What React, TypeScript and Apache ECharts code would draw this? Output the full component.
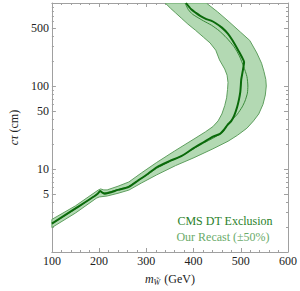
import React, { useEffect, useRef } from "react";
import * as echarts from "echarts";

// ---- data (m_W in GeV, c tau in cm) ----
const yLabelValues = [5, 10, 50, 100, 500];
const yMajorTicks = [1, 5, 10, 50, 100, 500, 1000];
const yMinorTicks = [2, 3, 4, 6, 7, 8, 9, 20, 30, 40, 60, 70, 80, 90, 200, 300, 400, 600, 700, 800, 900];

// CMS DT exclusion contour (thick line)
const cmsMass = [100, 150, 190, 198, 202, 207, 212, 240, 263, 283, 303, 322, 350, 375, 401, 421, 441, 456, 464, 472, 480, 486, 492, 496, 499, 500, 501, 504, 507, 502, 496, 483, 473, 460, 447, 437, 427, 414, 405, 395, 384];
const cmsCtau = [2.2, 3.35, 4.7, 5.1, 5.45, 5.2, 5.05, 5.6, 6.1, 7.3, 8.7, 10.5, 12.5, 14.4, 18, 21, 24.5, 26.5, 29.5, 34, 38, 44, 55, 68, 85, 100, 120, 150, 195, 225, 260, 350, 425, 505, 570, 612, 640, 700, 760, 840, 1000];

// Our recast, central contour (thin line)
const recastMass = [100, 150, 190, 198, 202, 210, 240, 263, 283, 303, 322, 350, 375, 401, 421, 441, 462, 473, 485, 493, 503, 509, 514, 515, 513, 506, 497, 486, 470, 454, 438, 421, 398, 389, 382];
const recastCtau = [2.2, 3.3, 4.75, 5.1, 5.35, 5.15, 5.65, 6.2, 7.3, 8.6, 10.2, 12.4, 14.4, 17.7, 20.5, 23.5, 28, 35, 41, 46, 56, 66, 82, 100, 130, 172, 230, 296, 380, 464, 540, 609, 731, 830, 1000];

// Recast band (+/-50%): outer (right/lower) edge, bottom to top
const outerMass = [100, 150, 194, 200, 217, 240, 263, 290, 322, 362, 401, 441, 473, 493, 513, 527, 538, 547, 552, 554, 553, 549, 544, 534, 519, 499, 473, 451, 427];
const outerCtau = [1.97, 2.95, 4.44, 4.6, 4.73, 5.1, 5.57, 6.8, 8.5, 11, 13.7, 17.5, 21.6, 25.5, 31, 38, 46, 60, 78, 100, 120, 150, 188, 250, 354, 448, 609, 781, 1000];
// inner (left/upper) edge, bottom to top
const innerMass = [100, 150, 198, 203, 210, 217, 240, 263, 290, 322, 360, 401, 425, 441, 452, 460, 466, 470, 472, 473, 471, 466, 455, 447, 435, 421, 404, 388, 375, 362, 351, 340];
const innerCtau = [2.47, 3.6, 5.57, 5.75, 5.6, 5.6, 6.2, 6.98, 9.0, 12, 16.5, 23, 28, 32.4, 38, 46, 58, 72, 91, 110, 135, 160, 206, 270, 330, 387, 470, 557, 650, 760, 866, 1000];

const FONT = "Liberation Serif";
const FRAME = "#a0a0a0";

function pairs(xs: number[], ys: number[]) {
  return xs.map((x, i) => [x, ys[i]]);
}

export default function App() {
  const ref = useRef<HTMLDivElement>(null);

  useEffect(() => {
    document.body.style.margin = "0";
    if (!ref.current) return;
    const chart = echarts.init(ref.current, null, { renderer: "svg" });

    const outer = pairs(outerMass, outerCtau);
    const inner = pairs(innerMass, innerCtau);
    const bandPoly = outer.concat(inner.slice().reverse());

    const xCommon = {
      type: "value",
      min: 100,
      max: 600,
      interval: 100,
      splitLine: { show: false },
      axisLine: { show: true, onZero: false, lineStyle: { color: FRAME, width: 1 } },
      axisTick: { show: true, inside: true, length: 4, lineStyle: { color: FRAME } },
      minorTick: { show: true, splitNumber: 5, length: 2, lineStyle: { color: FRAME } },
    };
    const yCommon = {
      type: "log",
      logBase: 10,
      min: 1,
      max: 1000,
      splitLine: { show: false },
      minorTick: { show: false },
    };

    chart.setOption({
      animation: false,
      textStyle: { fontFamily: FONT },
      grid: { left: 37, right: 9, top: 3, bottom: 34, containLabel: false },
      xAxis: [
        {
          ...xCommon,
          position: "bottom",
          axisLabel: { margin: 3, fontFamily: FONT, fontSize: 12, color: "#222" },
          name: "{i|m}{s|W̃} (GeV)",
          nameLocation: "middle",
          nameGap: 19,
          nameTextStyle: {
            fontFamily: FONT,
            fontSize: 12,
            color: "#222",
            rich: {
              i: { fontFamily: FONT, fontSize: 12, fontStyle: "italic", color: "#222" },
              s: { fontFamily: FONT, fontSize: 8, fontStyle: "italic", color: "#222", padding: [7, 1, 0, 0] },
            },
          },
        },
        { ...xCommon, position: "top", axisLabel: { show: false } },
      ],
      yAxis: [
        {
          ...yCommon,
          position: "left",
          axisLine: { show: true, lineStyle: { color: FRAME, width: 1 } },
          axisTick: { show: true, inside: true, length: 4, customValues: yMajorTicks, lineStyle: { color: FRAME } },
          axisLabel: { customValues: yLabelValues, margin: 3, fontFamily: FONT, fontSize: 12, color: "#222" },
          name: "{i|cτ} (cm)",
          nameLocation: "middle",
          nameGap: 23,
          nameTextStyle: {
            fontFamily: FONT,
            fontSize: 12,
            color: "#222",
            rich: { i: { fontFamily: FONT, fontSize: 12, fontStyle: "italic", color: "#222" } },
          },
        },
        {
          ...yCommon,
          position: "left",
          axisLine: { show: false },
          axisTick: { show: true, inside: true, length: 2, customValues: yMinorTicks, lineStyle: { color: FRAME } },
          axisLabel: { show: false },
        },
        {
          ...yCommon,
          position: "right",
          axisLine: { show: true, lineStyle: { color: FRAME, width: 1 } },
          axisTick: { show: true, inside: true, length: 4, customValues: yMajorTicks, lineStyle: { color: FRAME } },
          axisLabel: { show: false },
        },
        {
          ...yCommon,
          position: "right",
          axisLine: { show: false },
          axisTick: { show: true, inside: true, length: 2, customValues: yMinorTicks, lineStyle: { color: FRAME } },
          axisLabel: { show: false },
        },
      ],
      graphic: [
        {
          type: "text",
          x: 225,
          y: 221,
          style: {
            text: "CMS DT Exclusion",
            fill: "#2a7f2a",
            fontFamily: FONT,
            fontSize: 12,
            textAlign: "center",
            textVerticalAlign: "middle",
          },
        },
        {
          type: "text",
          x: 223,
          y: 237,
          style: {
            text: "Our Recast (±50%)",
            fill: "#6aab6a",
            fontFamily: FONT,
            fontSize: 12,
            textAlign: "center",
            textVerticalAlign: "middle",
          },
        },
      ],
      series: [
        {
          type: "custom",
          name: "band",
          xAxisIndex: 0,
          yAxisIndex: 0,
          clip: true,
          silent: true,
          data: [[300, 10]],
          renderItem: (_params: any, api: any) => {
            const pts = bandPoly.map((p) => api.coord(p));
            return {
              type: "polygon",
              shape: { points: pts },
              style: { fill: "#b3d9b3", stroke: "#5f9f5f", lineWidth: 1 },
            };
          },
        },
        {
          type: "line",
          name: "Our Recast",
          xAxisIndex: 0,
          yAxisIndex: 0,
          data: pairs(recastMass, recastCtau),
          showSymbol: false,
          smooth: 0.2,
          lineStyle: { color: "#3a8a3a", width: 1 },
          silent: true,
        },
        {
          type: "line",
          name: "CMS DT Exclusion",
          xAxisIndex: 0,
          yAxisIndex: 0,
          data: pairs(cmsMass, cmsCtau),
          showSymbol: false,
          smooth: 0.2,
          lineStyle: { color: "#0a6a0a", width: 2 },
          silent: true,
        },
      ],
    });

    return () => chart.dispose();
  }, []);

  return (
    <div
      ref={ref}
      style={{ position: "fixed", left: 0, top: 0, width: 300, height: 291, background: "#fff" }}
    />
  );
}
